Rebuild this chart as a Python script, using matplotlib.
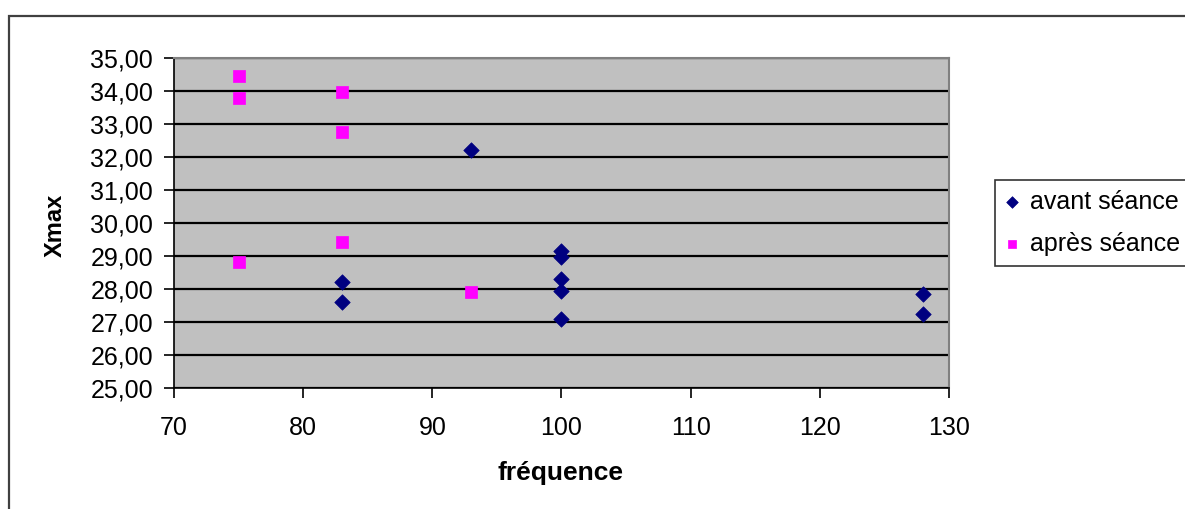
import matplotlib
matplotlib.use("Agg")
import matplotlib.pyplot as plt
from matplotlib.ticker import FuncFormatter, MultipleLocator
from matplotlib.patches import Rectangle

# Data
avant_x = [93, 83, 83, 100, 100, 100, 100, 100, 128, 128]
avant_y = [32.21, 28.21, 27.60, 29.15, 28.97, 28.30, 27.93, 27.10, 27.85, 27.24]
apres_x = [75, 75, 75, 83, 83, 83, 93]
apres_y = [34.45, 33.80, 28.82, 33.97, 32.75, 29.42, 27.90]
series_labels = ["avant séance", "après séance"]
x_label = "fréquence"
y_label = "Xmax"

plt.rcParams['font.family'] = ['Liberation Sans', 'DejaVu Sans']

W, H = 1185, 509
fig = plt.figure(figsize=(W / 100, H / 100), dpi=100)
ax = fig.add_axes([174 / W, 1 - 388 / H, (949 - 174) / W, (388 - 58) / H])
ax.set_facecolor("#C0C0C0")

ax.scatter(avant_x, avant_y, marker="D", s=62, color="#000080", edgecolors="#000080",
           linewidths=0.5, label=series_labels[0], zorder=3, clip_on=False)
ax.scatter(apres_x, apres_y, marker="s", s=64, color="#FF00FF", edgecolors="#FF00FF",
           linewidths=0.5, label=series_labels[1], zorder=3, clip_on=False)

ax.set_xlim(70, 130)
ax.set_ylim(25, 35)
ax.xaxis.set_major_locator(MultipleLocator(10))
ax.yaxis.set_major_locator(MultipleLocator(1))
ax.yaxis.set_major_formatter(FuncFormatter(lambda v, p: f"{v:.2f}".replace(".", ",")))

ax.grid(axis="y", color="black", linewidth=1.6, zorder=1)
ax.set_axisbelow(True)

for s in ["top", "right"]:
    ax.spines[s].set_color("#808080")
    ax.spines[s].set_linewidth(1.5)
for s in ["left", "bottom"]:
    ax.spines[s].set_color("black")
    ax.spines[s].set_linewidth(1.2)

ax.tick_params(axis="both", direction="out", length=7, width=1.2, labelsize=18,
               colors="black")
ax.tick_params(axis="y", pad=8)
ax.tick_params(axis="x", pad=13)

fig.text(560 / W, 1 - 473 / H, x_label, fontsize=19, fontweight="bold",
         ha="center", va="center")
fig.text(55 / W, 1 - 225 / H, y_label, fontsize=17, fontweight="bold",
         ha="center", va="center", rotation=90)

leg = fig.legend(loc="upper left", bbox_to_anchor=(995 / W, 1 - 180 / H),
                 bbox_transform=fig.transFigure, borderaxespad=0,
                 fontsize=18, frameon=True, fancybox=False,
                 handlelength=0.55, handletextpad=0.45, labelspacing=0.7,
                 borderpad=0.4, markerscale=0.75)
leg.get_frame().set_edgecolor("black")
leg.get_frame().set_linewidth(1.2)

fig.patches.append(Rectangle((9 / W, -0.1), 1.2, 1 - 16 / H + 0.1,
                             transform=fig.transFigure, fill=False,
                             edgecolor="#404040", linewidth=1.6, clip_on=False))

fig.savefig("out.png", dpi=100, facecolor="white")
